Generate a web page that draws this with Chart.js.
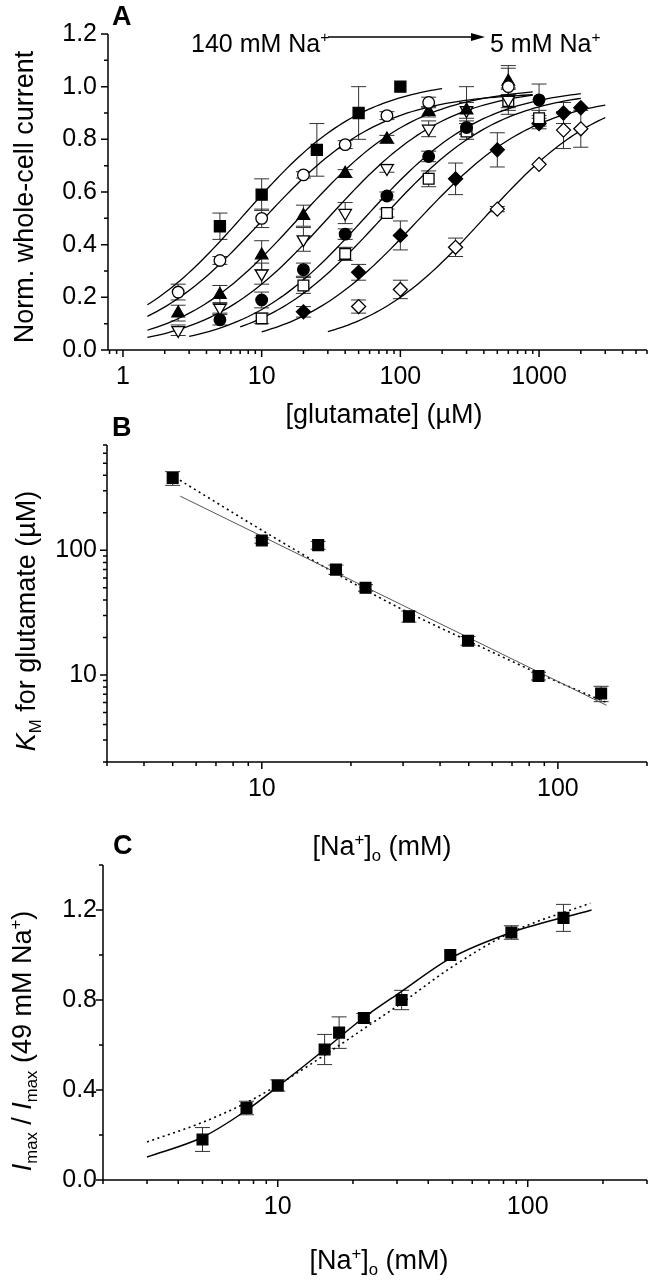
<!DOCTYPE html>
<html>
<head>
<meta charset="utf-8">
<script src="https://cdn.jsdelivr.net/npm/chart.js@4.4.1/dist/chart.umd.min.js"></script>
<style>
body { margin: 0; background: #fff; }
#page { position: relative; width: 659px; height: 1280px; overflow: hidden; font-family: "Liberation Sans", Arial, sans-serif; color: #000; }
canvas { position: absolute; left: 0; }
.t { position: absolute; white-space: nowrap; font-size: 25px; line-height: 1; }
.ti { font-size: 27px; }
.c { transform: translate(-50%, -50%); }
.rot { transform: translate(-50%, -50%) rotate(-90deg); }
.lab { font-weight: bold; font-size: 27px; }
.sb { font-size: 62%; position: relative; top: 0.36em; }
.sp { font-size: 62%; position: relative; top: -0.62em; }
</style>
</head>
<body>
<div id="page">
  <canvas id="chartA" width="659" height="400" style="top:0"></canvas>
  <canvas id="chartB" width="659" height="420" style="top:400px"></canvas>
  <canvas id="chartC" width="659" height="460" style="top:820px"></canvas>

  <div class="t lab" style="left:112px;top:3px">A</div>
  <div class="t" style="left:191px;top:31px">140 mM Na<span class="sp">+</span></div>
  <svg style="position:absolute;left:325px;top:30px" width="165" height="14">
    <line x1="3" y1="7" x2="150" y2="7" stroke="#000" stroke-width="1.4"/>
    <polygon points="146,3 160,7 146,11" fill="#000"/>
  </svg>
  <div class="t" style="left:490px;top:31px">5 mM Na<span class="sp">+</span></div>
  <div class="t ti c" style="left:384px;top:414px">[glutamate] (µM)</div>
  <div class="t ti rot" style="left:24px;top:197px">Norm. whole-cell current</div>

  <div class="t lab" style="left:112px;top:414px">B</div>
  <div class="t ti rot" style="left:26px;top:621px"><i>K</i><span class="sb">M</span> for glutamate (µM)</div>
  <div class="t ti c" style="left:382px;top:846px">[Na<span class="sp">+</span>]<span class="sb">o</span> (mM)</div>

  <div class="t lab" style="left:113px;top:832px">C</div>
  <div class="t ti rot" style="left:22px;top:1041px"><i>I</i><span class="sb">max</span> / <i>I</i><span class="sb">max</span> (49 mM Na<span class="sp">+</span>)</div>
  <div class="t ti c" style="left:379px;top:1260px">[Na<span class="sp">+</span>]<span class="sb">o</span> (mM)</div>
</div>
<script>
// ---- Panel A: normalised current vs [glutamate] (µM), one series per [Na+]o ----
const gluSq = [5, 10, 25, 50, 100];
const curSq = [0.47, 0.59, 0.76, 0.90, 1.00];
const errSq = [0.05, 0.06, 0.10, 0.10, 0];

const gluOc = [2.5, 5, 10, 20, 40, 80, 160, 600];
const curOc = [0.22, 0.34, 0.50, 0.665, 0.78, 0.89, 0.94, 1.00];
const errOc = [0.03, 0.015, 0.035, 0.012, 0.015, 0.015, 0.02, 0.08];

const gluTr = [2.5, 5, 10, 20, 40, 80, 160, 300, 600];
const curTr = [0.14, 0.21, 0.36, 0.51, 0.67, 0.80, 0.905, 0.91, 1.02];
const errTr = [0.03, 0.035, 0.055, 0.04, 0.015, 0.015, 0.02, 0.09, 0.05];

const gluDt = [2.5, 5, 10, 20, 40, 80, 160, 300, 600];
const curDt = [0.075, 0.16, 0.29, 0.42, 0.52, 0.69, 0.84, 0.91, 0.95];
const errDt = [0.02, 0.02, 0.04, 0.045, 0.04, 0.015, 0.03, 0.03, 0.04];

const gluFc = [5, 10, 20, 40, 80, 160, 300, 1000];
const curFc = [0.115, 0.19, 0.305, 0.44, 0.585, 0.735, 0.845, 0.95];
const errFc = [0.02, 0.03, 0.025, 0.02, 0.015, 0.02, 0.025, 0.06];

const gluOs = [10, 20, 40, 80, 160, 300, 600, 1000];
const curOs = [0.12, 0.245, 0.365, 0.52, 0.65, 0.83, 0.945, 0.88];
const errOs = [0.02, 0.03, 0.025, 0.015, 0.03, 0.03, 0.05, 0.03];

const gluFd = [20, 50, 100, 250, 500, 1000, 1500, 2000];
const curFd = [0.145, 0.295, 0.435, 0.65, 0.76, 0.86, 0.90, 0.92];
const errFd = [0.02, 0.03, 0.055, 0.06, 0.065, 0.02, 0.04, 0];

const gluOd = [50, 100, 250, 500, 1000, 1500, 2000];
const curOd = [0.165, 0.23, 0.39, 0.535, 0.705, 0.835, 0.84];
const errOd = [0.025, 0.035, 0.035, 0.01, 0, 0.07, 0.07];

// Michaelis-Menten fits drawn through each series (Km in µM)
const fitKm   = [7.5, 10, 18.5, 30, 55, 72, 130, 400];
const fitImax = [1.03, 0.98, 1.0, 1.0, 1.0, 0.99, 0.97, 1.0];
const fitFrom = [1.5, 1.5, 1.5, 1.5, 3, 7, 10, 30];
const fitTo   = [200, 900, 900, 900, 2000, 2000, 3000, 3000];

// ---- Panel B: KM for glutamate vs [Na+]o (mM) ----
const naB = [5, 10, 15.5, 17.8, 22.4, 31.4, 49.7, 86, 140];
const kmB = [380, 120, 110, 70, 50, 29.5, 18.8, 9.8, 7.1];
const kmErrB = [48, 6, 8, 6, 3, 3, 1.5, 0.7, 1.0];
const naPowB = [5.3, 146];
const kmPowB = [272, 5.7];
const naDotB = [5.1, 10, 15.3, 22.4, 31.4, 49.7, 85.8, 146];
const kmDotB = [385, 145, 80, 48, 31.5, 18.8, 10.3, 6.0];

// ---- Panel C: Imax relative to 49 mM Na+ ----
const naC = [5, 7.5, 10, 15.4, 17.6, 22.1, 31.3, 49, 86, 139];
const imaxC = [0.18, 0.32, 0.42, 0.58, 0.655, 0.72, 0.80, 1.00, 1.10, 1.165];
const imaxErrC = [0.053, 0.03, 0.025, 0.067, 0.07, 0.02, 0.043, 0, 0.03, 0.06];
const naSolidC = [3, 5, 7.5, 10, 15.4, 22, 31, 49, 86, 180];
const solidC = [0.102, 0.19, 0.31, 0.415, 0.58, 0.72, 0.835, 0.985, 1.10, 1.20];
const naDotC = [3, 5, 7.5, 10, 17.6, 22, 31, 49, 86, 178];
const dotC = [0.169, 0.256, 0.344, 0.422, 0.598, 0.671, 0.783, 0.942, 1.101, 1.23];

Chart.defaults.font.family = '"Liberation Sans", Arial, sans-serif';
Chart.defaults.font.size = 25;
Chart.defaults.color = '#000';

const pts = (xs, ys) => xs.map((x, i) => ({ x, y: ys[i] }));

function mmCurve(km, imax, from, to) {
  const out = [], a = Math.log10(from), b = Math.log10(to), n = 80;
  for (let i = 0; i <= n; i++) {
    const c = Math.pow(10, a + (b - a) * i / n);
    out.push({ x: c, y: imax * c / (c + km) });
  }
  return out;
}

function logTicks(min, max, labels) {
  const out = [];
  for (let e = -1; e <= 4; e++) for (let m = 1; m <= 9; m++) {
    const v = +(m * Math.pow(10, e)).toPrecision(3);
    if (v >= min * 0.999 && v <= max * 1.001) out.push({ value: v, major: labels.includes(v) });
  }
  return out;
}

function linTicks(max, step, every) {
  const out = [];
  for (let i = 0; i * step <= max + 1e-9; i++) out.push({ value: +(i * step).toFixed(2), major: i % every === 0 });
  return out;
}

// left/bottom axis lines with outward ticks, long at labelled values
const frame = {
  id: 'frame',
  afterDraw(chart) {
    const { ctx, chartArea: a, scales: { x, y } } = chart;
    ctx.save();
    ctx.strokeStyle = '#000';
    ctx.lineWidth = 1.5;
    ctx.beginPath();
    ctx.moveTo(a.left, a.top); ctx.lineTo(a.left, a.bottom); ctx.lineTo(a.right, a.bottom);
    for (const t of x.ticks) {
      const px = x.getPixelForValue(t.value);
      ctx.moveTo(px, a.bottom); ctx.lineTo(px, a.bottom + (t.major ? 7 : 4));
    }
    for (const t of y.ticks) {
      const py = y.getPixelForValue(t.value);
      ctx.moveTo(a.left, py); ctx.lineTo(a.left - (t.major ? 7 : 4), py);
    }
    ctx.stroke();
    ctx.restore();
  }
};

const errorBars = {
  id: 'errorBars',
  beforeDatasetsDraw(chart) {
    const { ctx, scales: { y } } = chart;
    ctx.save();
    ctx.strokeStyle = '#333';
    ctx.lineWidth = 1;
    chart.data.datasets.forEach((ds, i) => {
      if (!ds.errors) return;
      chart.getDatasetMeta(i).data.forEach((p, j) => {
        const e = ds.errors[j];
        if (!e) return;
        const v = ds.data[j].y;
        const y1 = y.getPixelForValue(v + e), y2 = y.getPixelForValue(v - e);
        ctx.beginPath();
        ctx.moveTo(p.x, y1); ctx.lineTo(p.x, y2);
        ctx.moveTo(p.x - 7.5, y1); ctx.lineTo(p.x + 7.5, y1);
        ctx.moveTo(p.x - 7.5, y2); ctx.lineTo(p.x + 7.5, y2);
        ctx.stroke();
      });
    });
    ctx.restore();
  }
};

function marker(xs, ys, errs, style, filled, r, rot) {
  return {
    data: pts(xs, ys), errors: errs,
    pointStyle: style, pointRadius: r, pointRotation: rot || 0,
    pointBackgroundColor: filled ? '#000' : '#fff', pointBorderColor: '#000', pointBorderWidth: 1.3,
    showLine: false
  };
}

function curve(data, opts) {
  return Object.assign({
    data, showLine: true, pointRadius: 0, borderColor: '#000', borderWidth: 1.3,
    fill: false, cubicInterpolationMode: 'monotone'
  }, opts || {});
}

function panel(id, box, xOpt, yOpt, datasets) {
  const canvas = document.getElementById(id);
  const H = canvas.height;
  return new Chart(canvas, {
    type: 'scatter',
    data: { datasets },
    options: {
      responsive: false, animation: false, events: [],
      layout: { padding: { top: box.top, right: 659 - box.right, left: 0, bottom: 0 } },
      plugins: { legend: { display: false }, tooltip: { enabled: false } },
      scales: {
        x: Object.assign({
          grid: { display: false, drawTicks: false }, border: { display: false },
          afterFit: s => { s.height = H - box.bottom; },
          ticks: { autoSkip: false, maxRotation: 0, padding: 12, callback: (v) => xOpt.labels.includes(v) ? String(v) : '' }
        }, xOpt.scale),
        y: Object.assign({
          grid: { display: false, drawTicks: false }, border: { display: false },
          afterFit: s => { s.width = box.left; },
          ticks: { autoSkip: false, padding: box.left - 97, callback: yOpt.fmt }
        }, yOpt.scale)
      }
    },
    plugins: [frame, errorBars]
  });
}

// Panel A
const fitsA = fitKm.map((k, i) => curve(mmCurve(k, fitImax[i], fitFrom[i], fitTo[i]), { cubicInterpolationMode: 'default', tension: 0 }));
panel('chartA', { left: 108, right: 658, top: 34, bottom: 350 },
  { labels: [1, 10, 100, 1000], scale: { type: 'logarithmic', min: 0.78, max: 6000, afterBuildTicks: s => { s.ticks = logTicks(0.78, 6000, [1, 10, 100, 1000]); } } },
  { fmt: (v) => Math.round(v * 10) % 2 === 0 ? v.toFixed(1) : '', scale: { type: 'linear', min: 0, max: 1.2, afterBuildTicks: s => { s.ticks = linTicks(1.2, 0.1, 2); } } },
  [
    marker(gluSq, curSq, errSq, 'rect', true, 7.8),
    marker(gluOc, curOc, errOc, 'circle', false, 5.8),
    marker(gluTr, curTr, errTr, 'triangle', true, 7.2),
    marker(gluDt, curDt, errDt, 'triangle', false, 7.2, 180),
    marker(gluFc, curFc, errFc, 'circle', true, 5.8),
    marker(gluOs, curOs, errOs, 'rect', false, 7.6),
    marker(gluFd, curFd, errFd, 'rectRot', true, 7),
    marker(gluOd, curOd, errOd, 'rectRot', false, 7),
    ...fitsA
  ]);

// Panel B (canvas top at 400)
panel('chartB', { left: 107, right: 653, top: 45, bottom: 362 },
  { labels: [10, 100], scale: { type: 'logarithmic', min: 3, max: 200, afterBuildTicks: s => { s.ticks = logTicks(3, 200, [10, 100]); } } },
  { fmt: (v) => (v === 10 || v === 100) ? String(v) : '', scale: { type: 'logarithmic', min: 2, max: 700, afterBuildTicks: s => { s.ticks = logTicks(2, 700, [10, 100]); } } },
  [
    marker(naB, kmB, kmErrB, 'rect', true, 7.6),
    curve(pts(naPowB, kmPowB), { borderColor: '#555', borderWidth: 1, cubicInterpolationMode: 'default', tension: 0 }),
    curve(pts(naDotB, kmDotB), { borderWidth: 1.6, borderDash: [2, 3.5] })
  ]);

// Panel C (canvas top at 820)
panel('chartC', { left: 103, right: 652, top: 45, bottom: 360 },
  { labels: [10, 100], scale: { type: 'logarithmic', min: 2, max: 300, afterBuildTicks: s => { s.ticks = logTicks(2, 300, [10, 100]); } } },
  { fmt: (v) => Math.round(v * 10) % 4 === 0 ? v.toFixed(1) : '', scale: { type: 'linear', min: 0, max: 1.4, afterBuildTicks: s => { s.ticks = linTicks(1.4, 0.2, 2); } } },
  [
    marker(naC, imaxC, imaxErrC, 'rect', true, 7.6),
    curve(pts(naSolidC, solidC), { borderWidth: 1.5 }),
    curve(pts(naDotC, dotC), { borderWidth: 1.6, borderDash: [2, 3.5] })
  ]);
</script>
</body>
</html>
